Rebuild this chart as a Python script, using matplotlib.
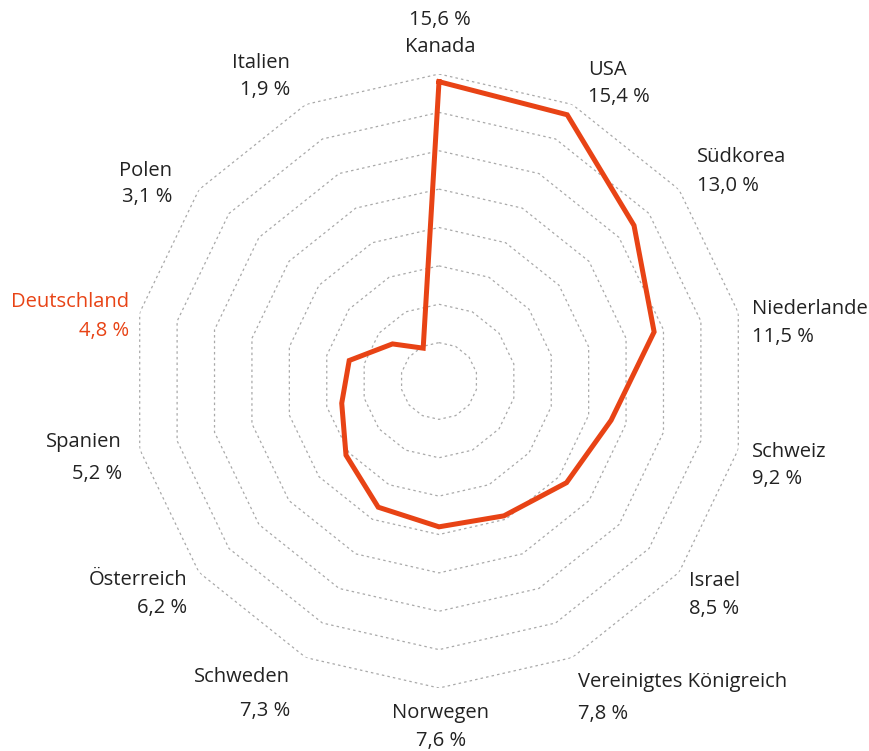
import numpy as np
import matplotlib
matplotlib.use("Agg")
import matplotlib.pyplot as plt

countries = ["Kanada", "USA", "Südkorea", "Niederlande", "Schweiz", "Israel",
             "Vereinigtes Königreich", "Norwegen", "Schweden", "Österreich",
             "Spanien", "Deutschland", "Polen", "Italien"]
values = [15.6, 15.4, 13.0, 11.5, 9.2, 8.5, 7.8, 7.6, 7.3, 6.2, 5.2, 4.8, 3.1, 1.9]
value_labels = ["15,6 %", "15,4 %", "13,0 %", "11,5 %", "9,2 %", "8,5 %", "7,8 %",
                "7,6 %", "7,3 %", "6,2 %", "5,2 %", "4,8 %", "3,1 %", "1,9 %"]
rings = [2, 4, 6, 8, 10, 12, 14, 16]

# label layout in pixels: x anchor, y of name, y of value, horizontal alignment
label_layout = [
    (440, 47, 20, "center"),
    (588, 70, 97, "left"),
    (697, 157, 186, "left"),
    (752, 309, 337, "left"),
    (752, 452, 479, "left"),
    (689, 581, 609, "left"),
    (578, 682, 714, "left"),
    (441, 713, 741, "center"),
    (290, 677, 711, "right"),
    (187, 580, 608, "right"),
    (122, 442, 474, "right"),
    (129, 302, 331, "right"),
    (172, 171, 197, "right"),
    (290, 63, 90, "right"),
]

ORANGE = "#e84315"
TEXT = "#222222"
plt.rcParams["font.family"] = ["Open Sans", "DejaVu Sans"]

W, H = 869, 751
fig = plt.figure(figsize=(W / 100, H / 100), dpi=100)
cx, cy, rad = 439, 381, 307
ax = fig.add_axes([(cx - rad) / W, (H - cy - rad) / H, 2 * rad / W, 2 * rad / H],
                  projection="polar")
ax.set_theta_zero_location("N")
ax.set_theta_direction(-1)
ax.set_ylim(0, 16)
ax.axis("off")

n = len(countries)
angles = np.linspace(0, 2 * np.pi, n, endpoint=False)
closed = np.append(angles, angles[0])

# polygon grid rings
for r in rings:
    ax.plot(closed, [r] * (n + 1), color="#a9a9a9", lw=0.9, ls=(0, (2, 2.5)), zorder=1)

ax.plot(closed, values + values[:1], color=ORANGE, lw=3.6, solid_joinstyle="miter", zorder=3)

for name, val, (x, yn, yv, ha) in zip(countries, value_labels, label_layout):
    color = ORANGE if name == "Deutschland" else TEXT
    fig.text(x / W, 1 - yn / H, name, ha=ha, va="center", fontsize=14.5, color=color)
    fig.text(x / W, 1 - yv / H, val, ha=ha, va="center", fontsize=14.5, color=color)

fig.savefig("out.png", dpi=100)
